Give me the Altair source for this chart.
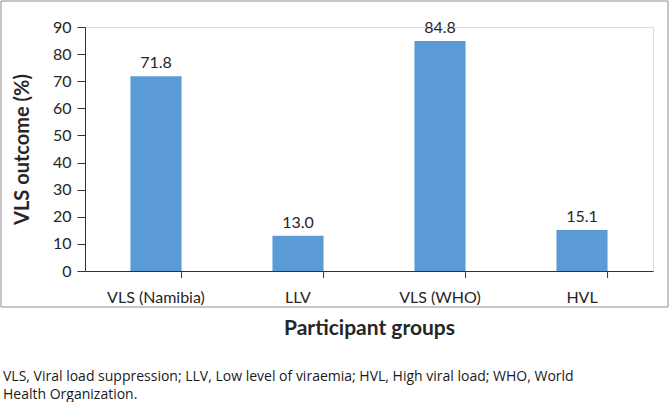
import altair as alt
import pandas as pd

# Participant groups and their VLS outcome percentages
groups = ["VLS (Namibia)", "LLV", "VLS (WHO)", "HVL"]
outcome = [71.8, 13.0, 84.8, 15.1]

caption_lines = [
    "VLS, Viral load suppression; LLV, Low level of viraemia; HVL, High viral load; WHO, World",
    "Health Organization.",
]

df = pd.DataFrame({"group": groups, "value": outcome})
df["label"] = df["value"].map(lambda v: f"{v:.1f}")

CHART_FONT = "Lato"
TEXT_COLOR = "#262626"
AXIS_COLOR = "#333333"

x_enc = alt.X(
    "group:N",
    sort=groups,
    scale=alt.Scale(paddingInner=0.64, paddingOuter=0.32),
    axis=alt.Axis(
        title="Participant groups",
        labelAngle=0,
        labelFontSize=16,
        labelColor=TEXT_COLOR,
        labelFont=CHART_FONT,
        labelPadding=18,
        ticks=False,
        domainColor=AXIS_COLOR,
        titleFontSize=21,
        titleFontWeight="bold",
        titleFont=CHART_FONT,
        titleColor=TEXT_COLOR,
        titlePadding=12,
    ),
)

y_enc = alt.Y(
    "value:Q",
    scale=alt.Scale(domain=[0, 90]),
    axis=alt.Axis(
        title="VLS outcome (%)",
        values=list(range(0, 91, 10)),
        labelOverlap=False,
        grid=False,
        tickSize=8,
        tickColor=AXIS_COLOR,
        domainColor=AXIS_COLOR,
        labelFontSize=16,
        labelFont=CHART_FONT,
        labelColor=TEXT_COLOR,
        labelPadding=6,
        titleFontSize=20,
        titleFontWeight="bold",
        titleFont=CHART_FONT,
        titleColor=TEXT_COLOR,
        titlePadding=20,
    ),
)

bars = alt.Chart(df).mark_bar(color="#5B9BD5").encode(x=x_enc, y=y_enc)

value_labels = alt.Chart(df).mark_text(
    baseline="bottom", dy=-5, fontSize=16, font=CHART_FONT, color=TEXT_COLOR
).encode(x=x_enc, y=y_enc, text="label:N")

# category separator ticks below the x axis, at the right edge of each band
sep_ticks = alt.Chart(df).mark_rule(color=AXIS_COLOR, strokeWidth=1).encode(
    x=alt.X("group:N", sort=groups, bandPosition=1),
    y=alt.value(244),
    y2=alt.value(251),
)

# outer frame around the figure
frame = alt.Chart(df.head(1)).mark_rect(
    fill=None, stroke="#8c8c8c", strokeWidth=1
).encode(
    x=alt.value(-84),
    x2=alt.value(583),
    y=alt.value(-26),
    y2=alt.value(280),
)


def caption_line(text, y_px):
    return alt.Chart(pd.DataFrame({"line": [text]})).mark_text(
        align="left",
        baseline="middle",
        fontSize=14,
        font="Open Sans",
        color="#1a1a1a",
    ).encode(x=alt.value(-82), y=alt.value(y_px), text="line:N")


caption = [caption_line(caption_lines[0], 350), caption_line(caption_lines[1], 368)]

chart = alt.layer(frame, bars, value_labels, sep_ticks, *caption).properties(
    width=568,
    height=244,
    autosize=alt.AutoSizeParams(type="none"),
    padding={"left": 85, "top": 27, "right": 17, "bottom": 131},
).configure_view(stroke=None).configure(background="white")

chart.save("out.html", embed_options={"renderer": "svg", "actions": False})
